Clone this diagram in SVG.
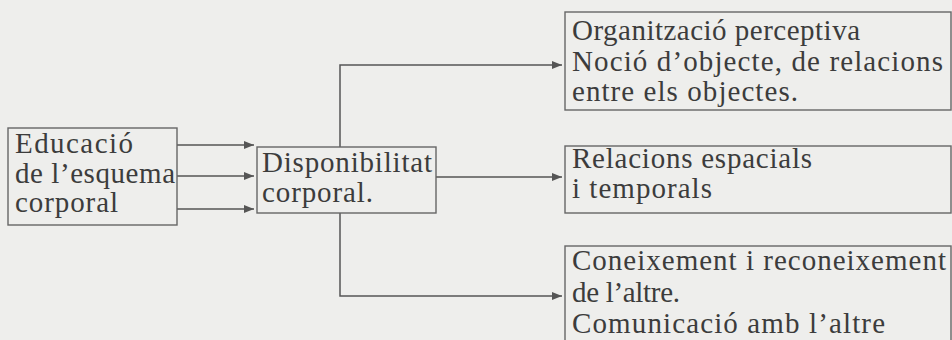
<svg xmlns="http://www.w3.org/2000/svg" width="952" height="340" viewBox="0 0 952 340">
<defs>
<style>
.bg{fill:#eeeeec}
.box{fill:none;stroke:#666;stroke-width:1.4}
.t{font-family:"Liberation Serif","Times New Roman",serif;font-size:29px;fill:#3c3c3c}
.c{fill:none;stroke:#555;stroke-width:1.5}
</style>
<marker id="ah" viewBox="0 0 10 8" refX="10" refY="4" markerWidth="10" markerHeight="8" markerUnits="userSpaceOnUse" orient="auto">
<path d="M0,0 L10,4 L0,8 Z" fill="#555"/>
</marker>
</defs>
<rect class="bg" x="0" y="0" width="952" height="340"/>
<g id="connectors">
<path class="c" d="M177,145 H254" marker-end="url(#ah)"/>
<path class="c" d="M177,176 H254" marker-end="url(#ah)"/>
<path class="c" d="M177,209 H254" marker-end="url(#ah)"/>
<path class="c" d="M340,147 V65 H562" marker-end="url(#ah)"/>
<path class="c" d="M436,177 H562" marker-end="url(#ah)"/>
<path class="c" d="M340,213 V296 H562" marker-end="url(#ah)"/>
</g>
<g id="node-educacio">
<rect class="box" x="8" y="128" width="169" height="97"/>
<text class="t" x="15" y="153" textLength="118" lengthAdjust="spacing">Educació</text>
<text class="t" x="15" y="183" textLength="160" lengthAdjust="spacing">de l’esquema</text>
<text class="t" x="15" y="212" textLength="103" lengthAdjust="spacing">corporal</text>
</g>
<g id="node-disponibilitat">
<rect class="box" x="257" y="147" width="179" height="66"/>
<text class="t" x="262" y="172" textLength="170" lengthAdjust="spacing">Disponibilitat</text>
<text class="t" x="262" y="202" textLength="111" lengthAdjust="spacing">corporal.</text>
</g>
<g id="node-organitzacio">
<rect class="box" x="565" y="12" width="386" height="98"/>
<text class="t" x="572" y="40" textLength="288" lengthAdjust="spacing">Organització perceptiva</text>
<text class="t" x="572" y="71" textLength="371" lengthAdjust="spacing">Noció d’objecte, de relacions</text>
<text class="t" x="572" y="101" textLength="226" lengthAdjust="spacing">entre els objectes.</text>
</g>
<g id="node-relacions">
<rect class="box" x="565" y="146" width="386" height="67"/>
<text class="t" x="572" y="168" textLength="240" lengthAdjust="spacing">Relacions espacials</text>
<text class="t" x="572" y="198" textLength="140" lengthAdjust="spacing">i temporals</text>
</g>
<g id="node-coneixement">
<rect class="box" x="565" y="246" width="386" height="110"/>
<text class="t" x="572" y="270" textLength="374" lengthAdjust="spacing">Coneixement i reconeixement</text>
<text class="t" x="572" y="302" textLength="108" lengthAdjust="spacing">de l’altre.</text>
<text class="t" x="572" y="333" textLength="313" lengthAdjust="spacing">Comunicació amb l’altre</text>
</g>
</svg>
